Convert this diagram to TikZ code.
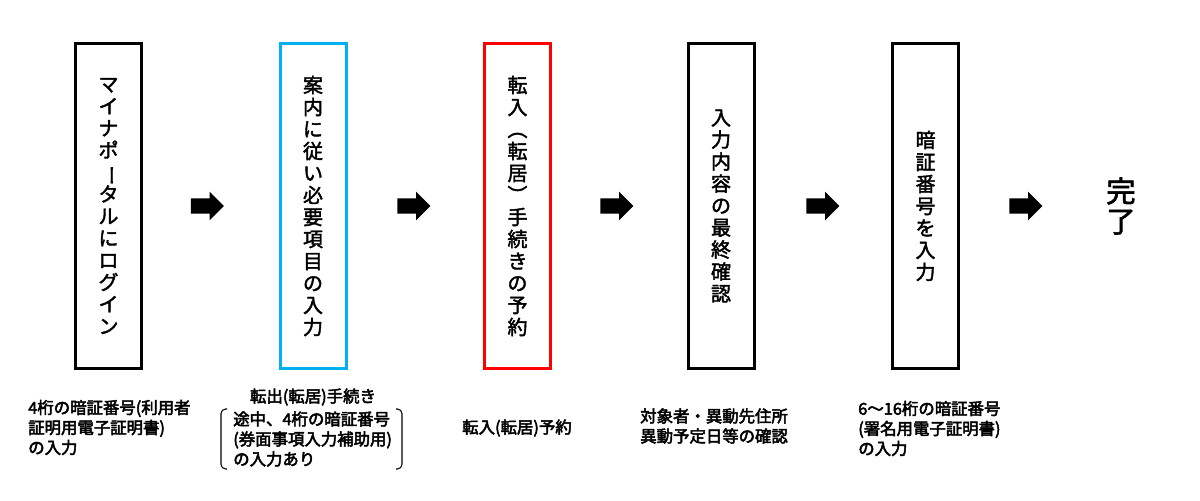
\documentclass[tikz,border=0pt]{standalone}
\usepackage{fontspec}
\setmainfont{Noto Sans CJK JP}
\newfontfamily\stagefont{Noto Sans CJK JP}[FakeBold=2]
\newfontfamily\notefont{Noto Sans CJK JP}[FakeBold=3]
\usetikzlibrary{shapes.arrows}
\definecolor{skyblue}{HTML}{00B0F0}
\definecolor{alertred}{HTML}{FF0000}
\newcommand\tbar{\rotatebox[origin=c]{-90}{ー}}
\newcommand\topen{\rotatebox[origin=c]{-90}{（}}
\newcommand\tclose{\rotatebox[origin=c]{-90}{）}}

\begin{document}
\begin{tikzpicture}[x=0.75pt,y=-0.75pt,
  stage/.style={draw,line width=2.25pt,minimum width=49.5pt,minimum height=244pt,inner sep=0pt,align=center,font=\stagefont\fontsize{15}{16.5}\selectfont},
  flow/.style={single arrow,fill=black,inner xsep=0pt,inner ysep=5.6pt,minimum height=24.75pt,single arrow head extend=4.9pt},
  note/.style={inner sep=0pt,font=\notefont\fontsize{12.3}{15}\selectfont},
  brace/.style={line width=0.8pt,rounded corners=3.5pt}]
\useasboundingbox (0,0) rectangle (1200,500);
\node[stage] (login) at (108.5,206) {マ\\イ\\ナ\\ポ\\\tbar\\タ\\ル\\に\\ロ\\グ\\イ\\ン};
\node[stage,draw=skyblue] (entry) at (313,206) {案\\内\\に\\従\\い\\必\\要\\項\\目\\の\\入\\力};
\node[stage,draw=alertred] (reserve) at (517.5,206) {転\\入\\\topen\\転\\居\\\tclose\\手\\続\\き\\の\\予\\約};
\node[stage] (check) at (721,206) {入\\力\\内\\容\\の\\最\\終\\確\\認};
\node[stage] (pin) at (925.5,206) {暗\\証\\番\\号\\を\\入\\力};
\node[font=\stagefont\fontsize{22}{22.5}\selectfont,align=center,inner sep=0pt] (done) at (1121,206) {完\\了};
\node[flow] (arr1) at (203.5,206) {};
\node[flow] (arr2) at (410,206) {};
\node[flow] (arr3) at (613,206) {};
\node[flow] (arr4) at (819,206) {};
\node[flow] (arr5) at (1022,206) {};
\node[note,anchor=west,align=left] (note1) at (28,427.5) {4桁の暗証番号(利用者\\証明用電子証明書)\\の入力};
\node[note] (note2t) at (313,397) {転出(転居)手続き};
\node[note,anchor=west,align=left] (note2) at (233,439) {途中、4桁の暗証番号\\(券面事項入力補助用)\\の入力あり};
\draw[brace] (227,409) -- (221,409) -- (221,469) -- (227,469);
\draw[brace] (396,409) -- (402,409) -- (402,469) -- (396,469);
\node[note] (note3) at (517,428) {転入(転居)予約};
\node[note,anchor=west,align=left] (note4) at (640,426) {対象者・異動先住所\\異動予定日等の確認};
\node[note,anchor=west,align=left] (note5) at (858,428.5) {6～16桁の暗証番号\\(署名用電子証明書)\\の入力};
\end{tikzpicture}
\end{document}
